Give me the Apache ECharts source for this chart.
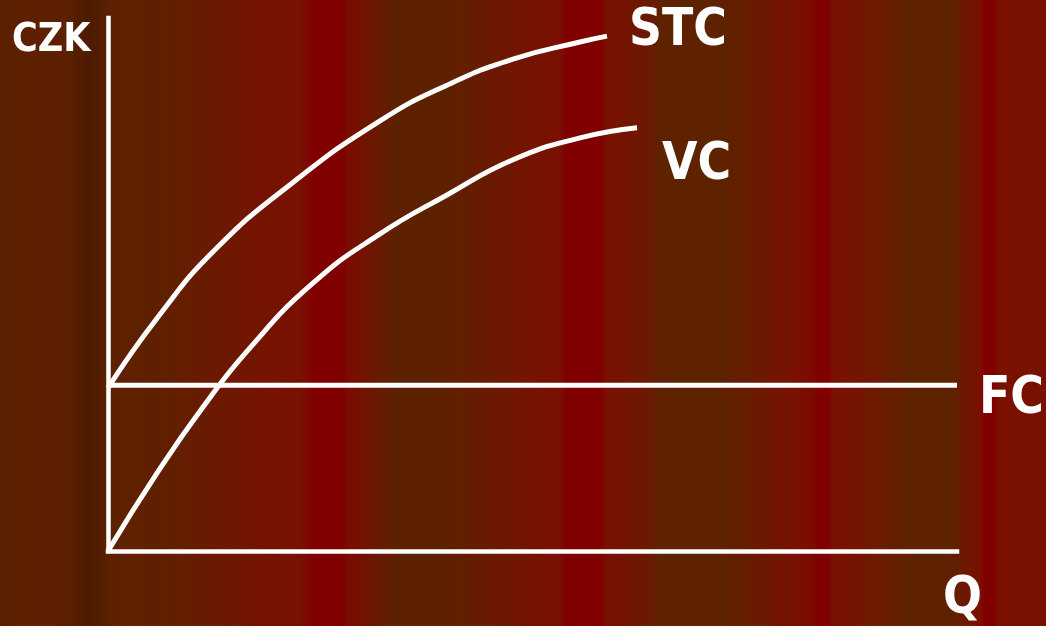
<!DOCTYPE html>
<html>
<head>
<meta charset="utf-8">
<style>
  html, body { margin: 0; padding: 0; width: 1046px; height: 626px; overflow: hidden; }
  #chart { width: 1046px; height: 626px; }
</style>
<script src="https://cdn.jsdelivr.net/npm/echarts@6/dist/echarts.min.js"></script>
</head>
<body>
<div id="chart"></div>
<script>
// Short-run cost curves: output Q (0–100) against cost in CZK (0–100)
const stcQ = [0, 5.89, 12.6, 21.67, 32.04, 39.93, 47.7, 55.6, 58.77];
const stcC = [30.6, 43.9, 56.5, 69.0, 80.7, 87.4, 92.3, 95.5, 96.6];

const vcQ = [0, 5.77, 11.19, 16.49, 24.03, 32.04, 39.93, 47.7, 55.6, 62.31];
const vcC = [0, 14.6, 27.0, 37.7, 50.1, 59.5, 66.8, 73.4, 77.5, 79.4];

const fcQ = [0, 100];
const fcC = [31.1, 31.1];

const seriesNames = ['STC', 'VC', 'FC'];
const axisNames = { y: 'CZK', x: 'Q' };

// vertical stripes of the slide background (offset in px across the width, colour)
const bgStops = [
  [0, '#5a2000'], [20, '#5e2100'], [65, '#5c2000'], [88, '#4d1b00'], [100, '#521e00'],
  [110, '#5e2100'], [160, '#602000'], [250, '#721500'], [300, '#7a1000'], [308, '#7c0800'],
  [312, '#800000'], [343, '#800000'], [348, '#7a0d00'], [395, '#5e2100'], [440, '#5e2100'],
  [520, '#721500'], [560, '#7a1000'], [566, '#800000'], [600, '#800000'], [606, '#7a1000'],
  [650, '#6a1a00'], [660, '#5e2200'], [720, '#5e2200'], [800, '#7a1000'], [815, '#7c0800'],
  [818, '#800000'], [828, '#800000'], [833, '#7a1000'], [870, '#701800'], [910, '#5e2200'],
  [950, '#5e2200'], [980, '#7a1000'], [985, '#800000'], [995, '#800000'], [998, '#7a1000'],
  [1046, '#7a1000']
];

const W = 1046, H = 626;
const FONT = '"DejaVu Sans Condensed", "DejaVu Sans", sans-serif';
const LABEL_FONT = 'bold 51px ' + FONT;

function pairs(xs, ys) { return xs.map((x, i) => [x, ys[i]]); }

// A smooth cost curve drawn as one spline through its points, with its name at the end
function curveSeries(name, xs, ys, labelDx, labelDy) {
  return {
    name: name, type: 'custom', clip: false,
    data: pairs(xs, ys),
    renderItem: function (params, api) {
      if (params.dataIndex !== 0) return null;
      const pts = xs.map((x, i) => api.coord([x, ys[i]]));
      const end = pts[pts.length - 1];
      return {
        type: 'group',
        children: [
          {
            type: 'polyline',
            shape: { points: pts, smooth: 0.5, smoothConstraint: false },
            style: { stroke: '#ffffff', lineWidth: 5, fill: 'none', lineCap: 'butt' }
          },
          {
            type: 'text',
            x: end[0] + labelDx, y: end[1] + labelDy,
            style: { text: name, fill: '#ffffff', font: LABEL_FONT, align: 'left', verticalAlign: 'middle' }
          }
        ]
      };
    }
  };
}

const chart = echarts.init(document.getElementById('chart'), null, { renderer: 'canvas' });

chart.setOption({
  animation: false,
  grid: { left: 108, right: 89, top: 18, bottom: 75 },
  graphic: [
    {
      type: 'rect', z: -10, silent: true,
      shape: { x: 0, y: 0, width: W, height: H },
      style: {
        fill: new echarts.graphic.LinearGradient(0, 0, 1, 0,
          bgStops.map(s => ({ offset: s[0] / W, color: s[1] })))
      }
    },
    {
      type: 'text', left: 12, top: 21,
      style: { text: axisNames.y, fill: '#ffffff', font: 'bold 39px ' + FONT }
    },
    {
      type: 'text', left: 943, top: 574,
      style: { text: axisNames.x, fill: '#ffffff', font: LABEL_FONT }
    }
  ],
  xAxis: {
    type: 'value', min: 0, max: 100,
    axisLine: { show: true, lineStyle: { color: '#ffffff', width: 4.5, cap: 'square' } },
    axisTick: { show: false }, axisLabel: { show: false }, splitLine: { show: false }
  },
  yAxis: {
    type: 'value', min: 0, max: 100,
    axisLine: { show: true, lineStyle: { color: '#ffffff', width: 4.5, cap: 'square' } },
    axisTick: { show: false }, axisLabel: { show: false }, splitLine: { show: false }
  },
  series: [
    curveSeries(seriesNames[0], stcQ, stcC, 22, -4.5),
    curveSeries(seriesNames[1], vcQ, vcC, 25, 38),
    {
      name: seriesNames[2], type: 'line', symbol: 'none',
      data: pairs(fcQ, fcC),
      lineStyle: { color: '#ffffff', width: 5 },
      endLabel: { show: true, formatter: seriesNames[2], offset: [14, 15],
        color: '#ffffff', fontSize: 51, fontWeight: 'bold', fontFamily: FONT }
    }
  ]
});
</script>
</body>
</html>
